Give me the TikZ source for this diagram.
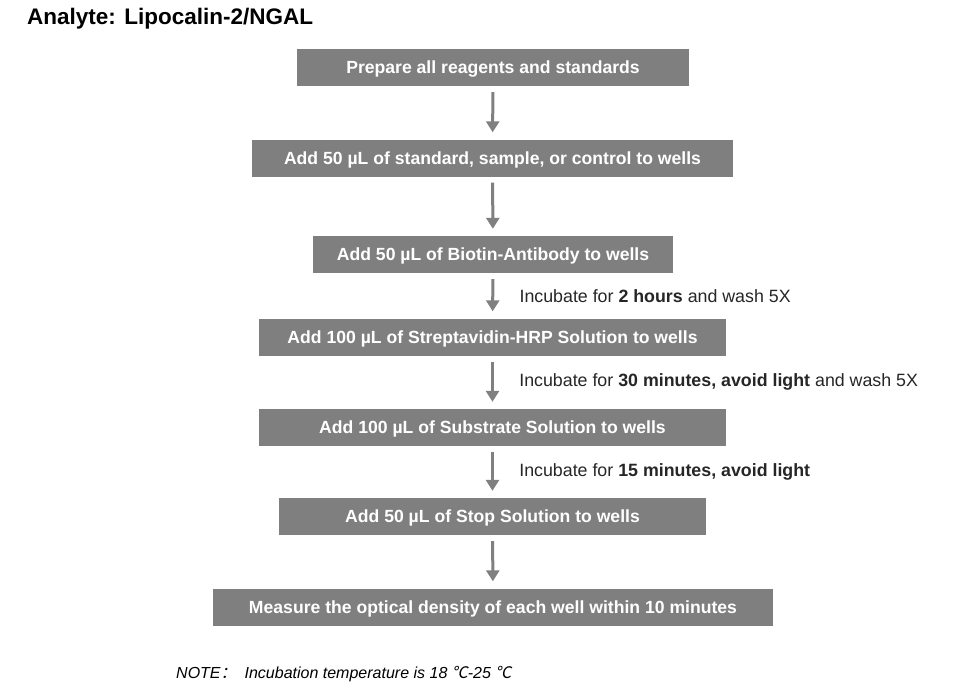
\documentclass[tikz,border=0pt]{standalone}
\usepackage{fontspec}
\setmainfont{Liberation Sans}
\newfontfamily\cjk[FakeSlant=0.2]{Noto Sans CJK SC}
\usepackage{xcolor}
\usetikzlibrary{positioning,arrows.meta}

\definecolor{boxgray}{HTML}{7F7F7F}
\definecolor{arrowgray}{HTML}{808080}

\begin{document}
\begin{tikzpicture}[
		x=1pt, y=-1pt,
		step_box/.style={rectangle, draw=none, fill=boxgray, text=white, font=\fontsize{17.6}{20}\selectfont\bfseries, minimum height=37pt, inner sep=0pt, text depth=0pt},
		flow/.style={-{Triangle[length=11pt,width=13pt]}, draw=arrowgray, line width=3pt, shorten <=6pt, shorten >=7pt},
		note/.style={right=22pt, font=\fontsize{17.8}{20}\selectfont, text=black!85},
		]
		\useasboundingbox (0,0) rectangle (964,699);

		%Title
		\node[anchor=west, font=\fontsize{22.5}{26}\selectfont\bfseries, inner sep=0pt]	(title)	at (27,19)	{Analyte: Lipocalin-2/NGAL};

		%Main Steps
		\node[step_box, minimum width=392pt]	(prepare)	at (493,67.5)	{Prepare all reagents and standards};
		\node[step_box, minimum width=481pt]	(sample)	at (492.5,158)	{Add 50 µL of standard, sample, or control to wells};
		\node[step_box, minimum width=360pt]	(biotin)	at (493,254.5)	{Add 50 µL of Biotin-Antibody to wells};
		\node[step_box, minimum width=467pt]	(strep)		at (492.5,337)	{Add 100 µL of Streptavidin-HRP Solution to wells};
		\node[step_box, minimum width=467pt]	(substrate)	at (492.5,427.5)	{Add 100 µL of Substrate Solution to wells};
		\node[step_box, minimum width=427pt]	(stop)		at (492.5,516.5)	{Add 50 µL of Stop Solution to wells};
		\node[step_box, minimum width=560pt]	(measure)	at (493,607)	{Measure the optical density of each well within 10 minutes};

		%Arrows
		\draw[flow]	(prepare)	--	(sample);
		\draw[flow]	(sample)	--	(biotin);
		\draw[flow]	(biotin)	--	node[note]	(inc_1)	{Incubate for \textbf{2 hours} and wash 5X}	(strep);
		\draw[flow]	(strep)		--	node[note]	(inc_2)	{Incubate for \textbf{30 minutes, avoid light} and wash 5X}	(substrate);
		\draw[flow]	(substrate)	--	node[note]	(inc_3)	{Incubate for \textbf{15 minutes, avoid light}}	(stop);
		\draw[flow]	(stop)		--	(measure);

		%Note
		\node[anchor=west, font=\fontsize{16}{19}\selectfont\itshape, inner sep=0pt]	(note_temp)	at (176,674)	{NOTE{\cjk ：}\hspace{8pt}Incubation temperature is 18 {\cjk ℃}-25 {\cjk ℃}};

	\end{tikzpicture}
\end{document}
